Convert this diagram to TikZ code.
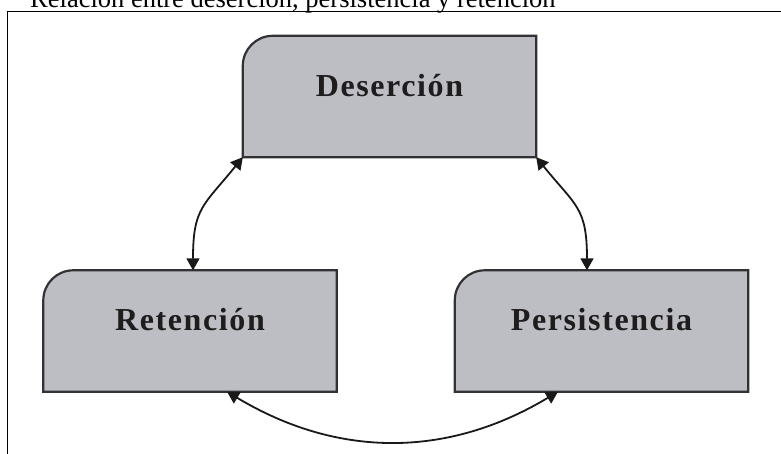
\documentclass[tikz,border=0pt]{standalone}
\usepackage{fontspec}
\newfontfamily\titlefont{Liberation Serif}
\newfontfamily\boxfont{Liberation Serif}[LetterSpace=5]
\usetikzlibrary{arrows.meta,backgrounds}
\definecolor{boxfill}{RGB}{189,190,195}
\definecolor{boxline}{RGB}{50,50,52}
\definecolor{textdark}{RGB}{30,28,29}
\begin{document}
\begin{tikzpicture}[x=1pt,y=1pt,
  box/.style={minimum width=293pt,minimum height=121pt,inner sep=0pt,
    text height=11pt,text depth=11pt,text=textdark,
    font=\boxfont\bfseries\fontsize{32}{36}\selectfont},
  boxedge/.style={draw=boxline,line width=2.2pt,fill=boxfill},
  link/.style={{Triangle[length=12pt,width=13pt]}-{Triangle[length=12pt,width=13pt]},
    line width=1.8pt,draw=black!90},
  frame/.style={line width=1.6pt,draw=black}]
\useasboundingbox (0,0) rectangle (781,454);
\clip (0,0) rectangle (781,454);
% caption line above the frame
\node[anchor=base west,inner sep=0pt,font=\titlefont\fontsize{26.5}{30}\selectfont]
  (title) at (30,446) {Relación entre deserción, persistencia y retención};
% open frame: top and left rules
\draw[frame] (781,442.5) -- (7.5,442.5) -- (7.5,0);
% the three concepts
\node[box] (des) at (389.5,357.5) {Deserción};
\node[box] (ret) at (190,123) {Retención};
\node[box] (per) at (601.5,123) {Persistencia};
\begin{scope}[on background layer]
  \foreach \n in {des,ret,per}
    \draw[boxedge] (\n.south west) -- ([yshift=-30pt]\n.north west)
      arc[start angle=180,end angle=90,radius=30pt]
      -- (\n.north east) -- (\n.south east) -- cycle;
\end{scope}
% two-way relations
\draw[link] (des.south west) to[out=231,in=90,looseness=1.3] ([xshift=3pt]ret.north);
\draw[link] (des.south east) to[out=-51,in=90,looseness=1.3] ([xshift=-14.5pt]per.north);
\draw[link] ([xshift=37pt]ret.south) to[out=-31,in=-149] ([xshift=-43.5pt]per.south);
\end{tikzpicture}
\end{document}
